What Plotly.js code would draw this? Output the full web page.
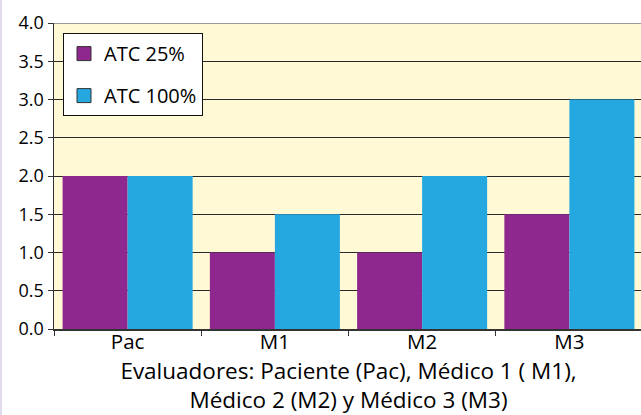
<!DOCTYPE html>
<html>
<head>
<meta charset="utf-8">
<script src="https://cdn.plot.ly/plotly-3.0.1.min.js"></script>
<style>
html,body{margin:0;padding:0;overflow:hidden;background:#fff;width:641px;height:415px;}
#chart{position:absolute;left:0;top:0;}
#edge{position:absolute;left:0;top:0;width:2px;height:415px;background:#e2daee;}
</style>
</head>
<body>
<div id="chart"></div>
<div id="edge"></div>
<script>
const categories = ["Pac", "M1", "M2", "M3"];
const seriesNames = ["ATC 25%", "ATC 100%"];
const atc25 = [2.0, 1.0, 1.0, 1.5];
const atc100 = [2.0, 1.5, 2.0, 3.0];
const yTicks = [0, 0.5, 1, 1.5, 2, 2.5, 3, 3.5, 4];
const titleText = "Puntuación media de las evaluaciones de los pacientes (n = 12)";
const xTitle = "Evaluadores: Paciente (Pac), Médico 1 ( M1),<br>Médico 2 (M2) y Médico 3 (M3)";
const colors = ["#8e278e", "#25a8e0"];

const font = "'Open Sans', 'Noto Sans', sans-serif";

const traces = [
  {type: "bar", name: seriesNames[0], x: categories, y: atc25, showlegend: false,
   marker: {color: colors[0], line: {width: 0}}, hoverinfo: "none"},
  {type: "bar", name: seriesNames[1], x: categories, y: atc100, showlegend: false,
   marker: {color: colors[1], line: {width: 0}}, hoverinfo: "none"},
  {type: "scatter", mode: "markers", name: seriesNames[0], x: [null], y: [null], legendgroup: "a",
   marker: {symbol: "square", size: 14, color: colors[0], line: {color: "#333", width: 1}}, hoverinfo: "none"},
  {type: "scatter", mode: "markers", name: seriesNames[1], x: [null], y: [null], legendgroup: "b",
   marker: {symbol: "square", size: 14, color: colors[1], line: {color: "#333", width: 1}}, hoverinfo: "none"}
];

const layout = {
  width: 643, height: 415,
  margin: {l: 54, r: 0, t: 23, b: 86, pad: 0},
  paper_bgcolor: "#ffffff",
  plot_bgcolor: "#fff9d6",
  barmode: "group",
  bargap: 0.117,
  bargroupgap: 0,
  font: {family: font, color: "#000"},
  showlegend: true,
  legend: {
    x: 0.0153, y: 0.967, xanchor: "left", yanchor: "top",
    bgcolor: "#ffffff", bordercolor: "#111", borderwidth: 1,
    font: {family: font, size: 20, color: "#000"},
    traceorder: "grouped", tracegroupgap: 13
  },
  xaxis: {
    type: "category", categoryarray: categories,
    showline: true, linecolor: "#333", linewidth: 1.5,
    ticks: "outside", tickson: "boundaries", ticklen: 5, tickcolor: "#333", tickwidth: 1,
    tickfont: {family: font, size: 20.5, color: "#000"},
    ticklabelstandoff: -6,
    showgrid: false, zeroline: false,
    title: {text: xTitle, font: {family: font, size: 22.5, color: "#000"}, standoff: 10}
  },
  yaxis: {
    range: [0, 4], tickvals: yTicks, tickformat: ".1f",
    showline: true, linecolor: "#333", linewidth: 1.5,
    ticks: "outside", ticklen: 5, tickcolor: "#333", tickwidth: 1,
    tickfont: {family: font, size: 18, color: "#000"},
    showgrid: true, gridcolor: "#2a2a2a", gridwidth: 1,
    zeroline: false, fixedrange: true
  },
  shapes: [
    {type: "line", xref: "paper", yref: "y", x0: 0, x1: 1, y0: 4, y1: 4,
     line: {color: "#9a9a9a", width: 2}, layer: "above"}
  ],
  annotations: [
    {text: titleText, xref: "paper", yref: "paper", x: 0.893, y: 1,
     xanchor: "right", yanchor: "bottom", yshift: 21, showarrow: false,
     font: {family: "'Liberation Serif', serif", size: 20, color: "#444", style: "italic"}}
  ]
};

Plotly.newPlot("chart", traces, layout, {staticPlot: true, displayModeBar: false});
</script>
</body>
</html>
